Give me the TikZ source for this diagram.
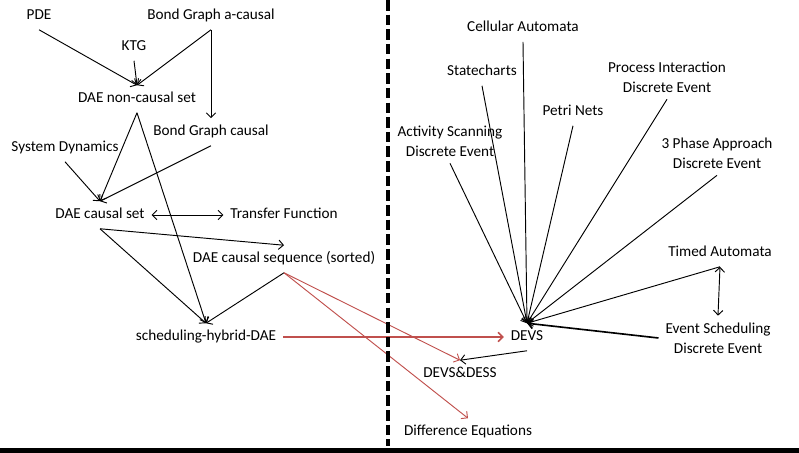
\documentclass[tikz,border=0pt]{standalone}
\usepackage{fontspec}
\setmainfont{Carlito}
\usetikzlibrary{arrows.meta}
\definecolor{arrowred}{RGB}{192,80,77}
\begin{document}
\begin{tikzpicture}[x=0.03cm, y=-0.03cm,
		lbl/.style={inner sep=1pt, outer sep=5pt, text height=9pt, text depth=2.5pt, font=\fontsize{13}{17}\selectfont},
		lbl2/.style={inner sep=1pt, outer sep=5pt, align=center, font=\fontsize{13}{17}\selectfont},
		link/.style={line width=0.8pt, -{Straight Barb[length=4pt,width=8pt]}},
		both/.style={line width=0.8pt, {Straight Barb[length=4pt,width=8pt]}-{Straight Barb[length=4pt,width=8pt]}},
		redlink/.style={link, draw=arrowred}]
		\useasboundingbox (0,0) rectangle (799,453);
		% left half
		\node (pde) at (39,16) [lbl] {PDE};
		\node (bga) at (211,16) [lbl] {Bond Graph a-causal};
		\node (ktg) at (134,47) [lbl] {KTG};
		\node (ncs) at (137,99) [lbl] {DAE non-causal set};
		\node (bgc) at (211,132) [lbl] {Bond Graph causal};
		\node (sd) at (65,148) [lbl] {System Dynamics};
		\node (dcs) at (100,215) [lbl] {DAE causal set};
		\node (tf) at (284,215) [lbl] {Transfer Function};
		\node (seq) at (284,259) [lbl] {DAE causal sequence (sorted)};
		\node (shd) at (206,337) [lbl] {scheduling-hybrid-DAE};
		% right half
		\node (devs) at (527,337) [lbl] {DEVS};
		\node (dd) at (460,374) [lbl] {DEVS\&DESS};
		\node (de) at (468,432) [lbl] {Difference Equations};
		\node (ca) at (523,28) [lbl] {Cellular Automata};
		\node (sc) at (482,72) [lbl] {Statecharts};
		\node (pn) at (573,112) [lbl] {Petri Nets};
		\node (pi) at (667,77) [lbl2] {Process Interaction\\Discrete Event};
		\node (as) at (450,141) [lbl2] {Activity Scanning\\Discrete Event};
		\node (tp) at (717,153) [lbl2] {3 Phase Approach\\Discrete Event};
		\node (ta) at (720,253) [lbl] {Timed Automata};
		\node (es) at (718,338) [lbl2] {Event Scheduling\\Discrete Event};
		% connectors
		\draw[link] (pde.south) -- (ncs.north);
		\draw[link] (ktg.south) -- (ncs.north);
		\draw[link] (bga.south) -- (ncs.north);
		\draw[link] (bga.south) -- (bgc.north);
		\draw[link] (ncs.south) -- (dcs.north);
		\draw[link] (ncs.south) -- (shd.north);
		\draw[link] (sd.south) -- (dcs.north);
		\draw[link] (bgc.south) -- (dcs.north);
		\draw[both] (dcs.east) -- (tf.west);
		\draw[link] (dcs.south) -- (seq.north);
		\draw[link] (dcs.south) -- (shd.north);
		\draw[link] (seq.south) -- (shd.north);
		\draw[redlink, line width=1.3pt] (shd.east) -- (devs.west);
		\draw[redlink] (seq.south) -- (dd.north);
		\draw[redlink] (seq.south) -- (de.north);
		\draw[link] (devs.south) -- (dd.north);
		\foreach \src in {ca,sc,pn,pi,as,tp,ta}
			\draw[link] (\src.south) -- (devs.north);
		\draw[link, line width=1.4pt] (es.west) -- (devs.north);
		\draw[both] (ta.south) -- (es.north);
		% divider and base line
		\draw[line width=2.6pt, dash pattern=on 9 off 3.5] (388,0) -- (388,446);
		\fill (0,448) rectangle (799,453);
	\end{tikzpicture}
\end{document}
